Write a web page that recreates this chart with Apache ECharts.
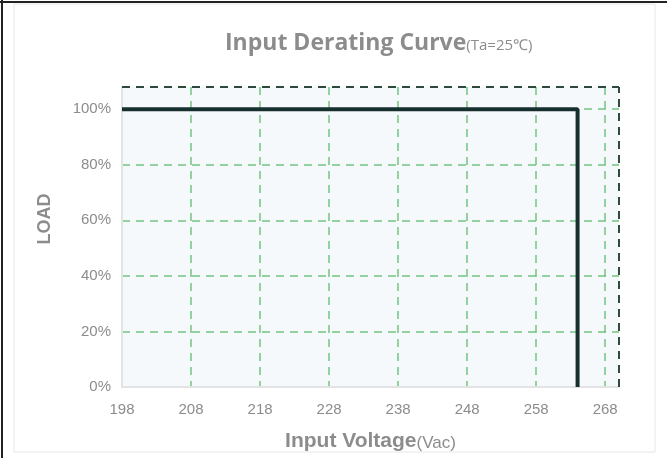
<!DOCTYPE html>
<html><head><meta charset="utf-8">
<script src="https://cdn.jsdelivr.net/npm/echarts@6/dist/echarts.min.js"></script>
<style>html,body{margin:0;padding:0;background:#fff}#c{width:667px;height:458px}</style>
</head><body><div id="c"></div>
<script>
const voltage = [198, 264, 264];
const load = [100, 100, 0];
const xMin = 198, xMax = 270, xStep = 10;
const yMin = 0, yMax = 108, yStep = 20;

const chart = echarts.init(document.getElementById('c'), null, {renderer: 'canvas'});
const gray = '#8c8c8c';
chart.setOption({
  animation: false,
  backgroundColor: '#fff',
  title: {
    text: '{a|Input Derating Curve}{b|(Ta=25℃)}',
    left: 220, top: 27,
    textStyle: {
      rich: {
        a: {fontFamily: 'Open Sans', fontWeight: 'bold', fontSize: 23, color: gray},
        b: {fontFamily: 'Open Sans', fontWeight: 'normal', fontSize: 15, color: gray, padding: [5, 0, 0, 0]}
      }
    }
  },
  grid: {left: 122, right: 48, top: 87, bottom: 71, show: true, backgroundColor: '#f5f9fb', borderWidth: 0},
  xAxis: {
    type: 'value', min: xMin, max: xMax, interval: xStep,
    name: '{a|Input Voltage}{b|(Vac)}', nameLocation: 'middle', nameGap: 44,
    nameTextStyle: {rich: {
      a: {fontFamily: 'Liberation Sans', fontWeight: 'bold', fontSize: 21, color: gray},
      b: {fontFamily: 'Liberation Sans', fontSize: 17, color: gray, padding: [3, 0, 0, 0]}
    }},
    axisLine: {lineStyle: {color: '#e3e3e3', width: 2}},
    axisTick: {show: false},
    axisLabel: {showMaxLabel: false, color: gray, fontSize: 15, fontFamily: 'Liberation Sans', margin: 15},
    splitLine: {show: true, showMinLine: false, showMaxLine: false, lineStyle: {color: '#74c482', type: [8, 6], width: 1.5}}
  },
  yAxis: {
    type: 'value', min: yMin, max: yMax, interval: yStep,
    axisLine: {show: true, lineStyle: {color: '#e3e3e3', width: 2}},
    axisTick: {show: false},
    axisLabel: {showMaxLabel: false, color: gray, fontSize: 15, fontFamily: 'Liberation Sans', margin: 11, formatter: v => v + '%'},
    splitLine: {show: true, showMinLine: false, showMaxLine: false, lineStyle: {color: '#74c482', type: [8, 6], width: 1.5}}
  },
  series: [{
    type: 'line', data: voltage.map((v, i) => [v, load[i]]),
    symbol: 'none', lineStyle: {color: '#17302f', width: 4}, z: 5,
    markLine: {
      silent: true, symbol: 'none', label: {show: false},
      lineStyle: {color: '#2e4a3a', type: [8, 6], width: 2},
      data: [{yAxis: yMax}, {xAxis: xMax}]
    }
  }],
  graphic: [
    {type: 'rect', shape: {x: 14, y: 4, width: 641, height: 448}, style: {fill: 'none', stroke: '#e6e6e6', lineWidth: 1}, z: -1},
    {type: 'line', shape: {x1: 0, y1: 2, x2: 667, y2: 2}, style: {stroke: '#222', lineWidth: 2}},
    {type: 'line', shape: {x1: 2, y1: 0, x2: 2, y2: 458}, style: {stroke: '#222', lineWidth: 2}},
    {type: 'text', x: 45, y: 219, rotation: Math.PI / 2,
      style: {text: 'LOAD', fontFamily: 'Liberation Sans', fontWeight: 'bold', fontSize: 18, fill: gray, align: 'center', verticalAlign: 'middle'}}
  ]
});
</script></body></html>
